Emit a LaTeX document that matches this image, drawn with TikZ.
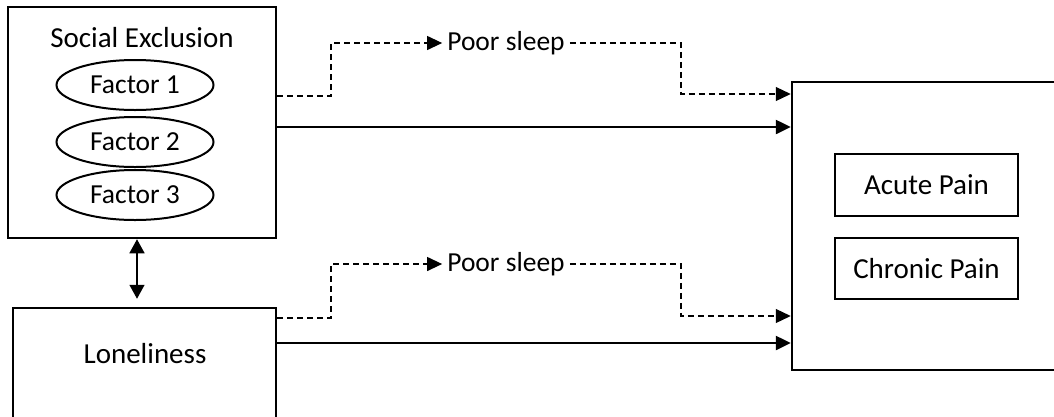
\documentclass[tikz,border=0pt]{standalone}
\usepackage{fontspec}
\setmainfont{Carlito}
\usetikzlibrary{shapes,arrows.meta,positioning}

\begin{document}
\begin{tikzpicture}[x=1pt,y=-1pt,font=\fontsize{29}{35}\selectfont,
  box/.style={draw,line width=2.5pt,rectangle,inner sep=0pt},
  factor/.style={draw,line width=2pt,ellipse,minimum width=157pt,minimum height=50pt,inner sep=0pt,
    font=\fontsize{27.5}{33}\selectfont},
  tip/.style={-{Triangle[length=15pt,width=14pt]}},
  link/.style={line width=2.5pt,tip},
  sleepline/.style={line width=1.2pt,dash pattern=on 6pt off 4pt},
  sleep/.style={inner xsep=5pt,inner ysep=0pt,font=\fontsize{27.5}{33}\selectfont}]
\clip (0,0) rectangle (1054,416);
% left boxes
\node[box,minimum width=268pt,minimum height=231pt] (social) at (142,122.5) {};
\node (title) at (142,38) {Social Exclusion};
\node[factor] (fac1) at (135,85) {Factor 1};
\node[factor] (fac2) at (135,142) {Factor 2};
\node[factor] (fac3) at (135,195) {Factor 3};
\node[box,minimum width=263pt,minimum height=124pt] (lonely) at (144.5,370) {};
\node (lonelytext) at (145,354) {Loneliness};
\draw[line width=1.5pt,{Triangle[length=14pt,width=15pt]}-{Triangle[length=14pt,width=15pt]},shorten >=8pt]
  (social.south -| 137,0) -- (lonely.north -| 137,0);
% right box
\node[box,minimum width=283pt,minimum height=288pt] (pain) at (933.5,226) {};
\node[box,minimum width=183pt,minimum height=62pt] (acute) at (926.5,185) {Acute Pain};
\node[box,minimum width=183pt,minimum height=61pt] (chronic) at (926.5,268.5) {Chronic Pain};
% poor sleep paths
\node[sleep] (sleepA) at (506,43) {Poor sleep};
\node[sleep] (sleepB) at (506,264) {Poor sleep};
\draw[sleepline,tip] (social.east |- 0,96) -| (331,43) -- (sleepA.west);
\draw[sleepline,tip] (sleepA.east) -| (681,94) -- (pain.west |- 0,94);
\draw[sleepline,tip] (lonely.east |- 0,318) -| (331,264) -- (sleepB.west);
\draw[sleepline,tip] (sleepB.east) -| (681,316) -- (pain.west |- 0,316);
% direct paths
\draw[link] (social.east |- 0,127) -- (pain.west |- 0,127);
\draw[link] (lonely.east |- 0,343) -- (pain.west |- 0,343);
\end{tikzpicture}
\end{document}
